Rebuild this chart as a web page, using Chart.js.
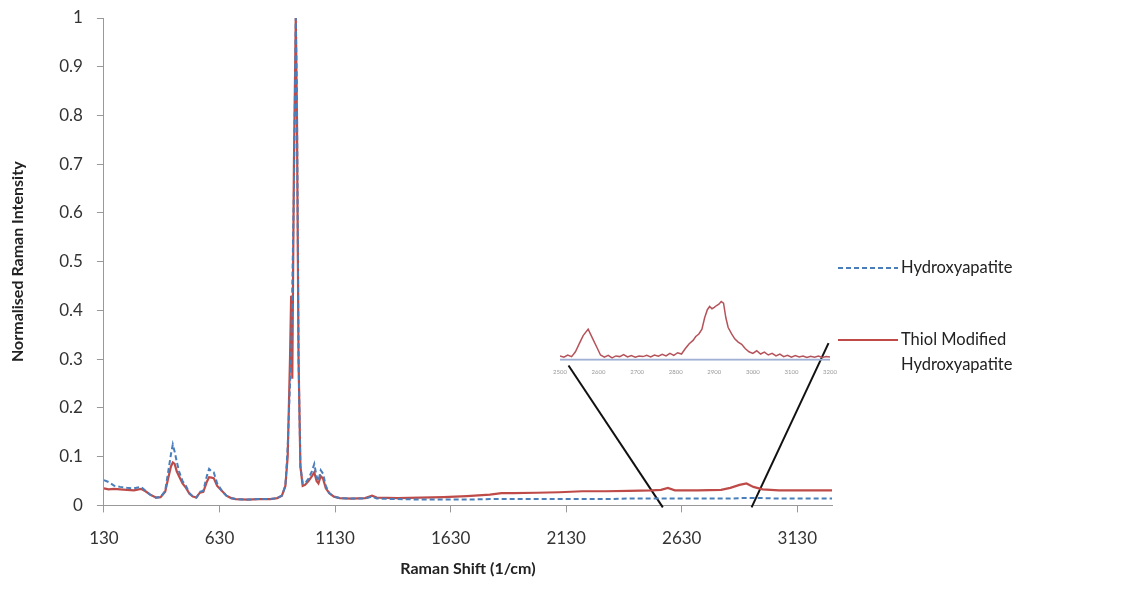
<!DOCTYPE html>
<html lang="en">
<head>
<meta charset="UTF-8">
<title>Raman spectra</title>
<style>
    body { margin: 0; background: #fff; }
    .wrap { position: relative; width: 1138px; height: 597px; }
    #insetChart { position: absolute; left: 548px; top: 292px; }
</style>
</head>
<body>
<div class="wrap">
    <canvas id="ramanChart" width="1138" height="597"></canvas>
    <canvas id="insetChart" width="294" height="84"></canvas>
</div>
<script src="https://cdn.jsdelivr.net/npm/chart.js"></script>
<script>
    // main spectrum
    const ramanShift = [130, 150, 175, 200, 230, 260, 290, 310, 330, 355, 375, 395, 410, 420, 428, 436, 445, 455, 470, 485,
        500, 515, 530, 545, 560, 575, 585, 595, 605, 620, 640, 660, 680, 700, 750, 800, 850, 880, 900, 915,
        925, 935, 940, 945, 952, 960, 965, 972, 980, 990, 1000, 1015, 1030, 1040, 1050, 1058, 1068, 1078, 1090, 1105,
        1125, 1150, 1200, 1260, 1290, 1310, 1400, 1500, 1600, 1700, 1800, 1850, 1900, 2000, 2100, 2200, 2300, 2400, 2500, 2540,
        2570, 2600, 2700, 2800, 2840, 2880, 2910, 2940, 2980, 3050, 3150, 3280];
    const hydroxyapatite = [0.052, 0.048, 0.040, 0.038, 0.036, 0.035, 0.038, 0.030, 0.022, 0.016, 0.017, 0.030, 0.075, 0.105, 0.125, 0.110, 0.090, 0.070, 0.050, 0.040,
        0.025, 0.018, 0.016, 0.028, 0.030, 0.060, 0.075, 0.070, 0.068, 0.045, 0.030, 0.020, 0.015, 0.013, 0.012, 0.013, 0.013, 0.015, 0.020, 0.040,
        0.120, 0.250, 0.300, 0.450, 0.650, 1.000, 0.850, 0.300, 0.080, 0.045, 0.045, 0.055, 0.070, 0.085, 0.060, 0.050, 0.072, 0.065, 0.040, 0.025,
        0.018, 0.015, 0.014, 0.014, 0.018, 0.014, 0.013, 0.012, 0.012, 0.012, 0.013, 0.013, 0.013, 0.013, 0.013, 0.013, 0.013, 0.014, 0.014, 0.014,
        0.014, 0.014, 0.014, 0.014, 0.014, 0.015, 0.015, 0.015, 0.015, 0.014, 0.014, 0.014];
    const thiolModified = [0.035, 0.033, 0.034, 0.033, 0.032, 0.031, 0.034, 0.029, 0.022, 0.016, 0.017, 0.028, 0.060, 0.080, 0.088, 0.085, 0.070, 0.060, 0.045, 0.036,
        0.024, 0.018, 0.016, 0.026, 0.028, 0.048, 0.058, 0.057, 0.056, 0.040, 0.030, 0.020, 0.015, 0.013, 0.012, 0.013, 0.013, 0.015, 0.020, 0.040,
        0.100, 0.300, 0.430, 0.260, 0.700, 1.000, 0.800, 0.300, 0.080, 0.040, 0.042, 0.050, 0.060, 0.068, 0.050, 0.045, 0.060, 0.055, 0.035, 0.025,
        0.018, 0.015, 0.014, 0.015, 0.020, 0.016, 0.015, 0.016, 0.017, 0.019, 0.022, 0.025, 0.025, 0.026, 0.027, 0.029, 0.029, 0.030, 0.031, 0.032,
        0.036, 0.031, 0.031, 0.032, 0.036, 0.042, 0.045, 0.038, 0.033, 0.031, 0.031, 0.031];
    const xTicks = [130, 630, 1130, 1630, 2130, 2630, 3130];

    // zoom lines from the inset down to the axis
    const zoomLeft = [{ x: 2140, y: 0.287 }, { x: 2548, y: -0.004 }];
    const zoomRight = [{ x: 3265, y: 0.333 }, { x: 2932, y: -0.004 }];

    // inset: 2500-3200 region of the thiol sample (arbitrary units)
    const insetShift = [2500, 2510, 2520, 2530, 2540, 2550, 2560, 2573, 2585, 2597, 2605, 2615, 2625, 2635, 2645, 2655, 2665, 2675, 2685, 2695,
        2705, 2715, 2725, 2735, 2745, 2755, 2765, 2775, 2785, 2795, 2805, 2815, 2825, 2835, 2845, 2852, 2860, 2868, 2875, 2882,
        2888, 2894, 2900, 2906, 2912, 2918, 2924, 2930, 2936, 2945, 2953, 2962, 2971, 2980, 2990, 3000, 3010, 3020, 3030, 3040,
        3050, 3060, 3070, 3080, 3090, 3100, 3110, 3120, 3130, 3140, 3150, 3160, 3170, 3180, 3190, 3200];
    const insetThiol = [12, 8, 15, 10, 25, 50, 75, 95, 65, 35, 15, 8, 14, 6, 12, 10, 16, 9, 13, 8,
        12, 10, 14, 9, 15, 11, 17, 12, 20, 14, 22, 18, 35, 50, 60, 72, 80, 95, 130, 155,
        165, 158, 162, 168, 172, 180, 175, 130, 100, 80, 65, 55, 48, 35, 25, 20, 28, 18, 24, 15,
        20, 12, 18, 10, 14, 8, 13, 9, 12, 7, 11, 8, 12, 7, 10, 9];
    const insetHydroxy = [0, 0];
    const insetHydroxyShift = [2500, 3200];
    const insetTicks = [2500, 2600, 2700, 2800, 2900, 3000, 3100, 3200];

    const blue = '#4a7ebb';
    const red = '#be4b48';

    function toPoints(xs, ys) {
        return xs.map((x, i) => ({ x: x, y: ys[i] }));
    }

    // legend on the right, the second label runs on two lines
    const sideLegend = {
        id: 'sideLegend',
        afterDraw(chart) {
            const ctx = chart.ctx;
            const items = [
                { ds: chart.data.datasets[0], y: 268, lines: ['Hydroxyapatite'] },
                { ds: chart.data.datasets[1], y: 340, lines: ['Thiol Modified', 'Hydroxyapatite'] }
            ];
            ctx.save();
            items.forEach(item => {
                ctx.beginPath();
                ctx.strokeStyle = item.ds.borderColor;
                ctx.lineWidth = item.ds.borderWidth;
                ctx.setLineDash(item.ds.borderDash || []);
                ctx.moveTo(838, item.y);
                ctx.lineTo(898, item.y);
                ctx.stroke();
                ctx.setLineDash([]);
                ctx.fillStyle = '#222';
                ctx.font = '16.5px Lato';
                ctx.textBaseline = 'middle';
                item.lines.forEach((t, i) => ctx.fillText(t, 901, item.y + i * 25));
            });
            ctx.restore();
        }
    };

    new Chart(document.getElementById('ramanChart'), {
        type: 'line',
        data: {
            datasets: [{
                label: 'Hydroxyapatite',
                data: toPoints(ramanShift, hydroxyapatite),
                borderColor: blue,
                borderWidth: 2,
                borderDash: [5, 3],
                pointRadius: 0,
                tension: 0
            }, {
                label: 'Thiol Modified Hydroxyapatite',
                data: toPoints(ramanShift, thiolModified),
                borderColor: red,
                borderWidth: 2.2,
                pointRadius: 0,
                tension: 0
            }, {
                label: 'zoom1',
                data: zoomLeft,
                borderColor: '#111',
                borderWidth: 2,
                pointRadius: 0,
                clip: false
            }, {
                label: 'zoom2',
                data: zoomRight,
                borderColor: '#111',
                borderWidth: 2,
                pointRadius: 0,
                clip: false
            }]
        },
        options: {
            responsive: false,
            animation: false,
            layout: { padding: { top: 0, right: 306, bottom: 19, left: 4 } },
            plugins: {
                legend: { display: false },
                tooltip: { enabled: false }
            },
            scales: {
                x: {
                    type: 'linear',
                    min: 130,
                    max: 3280,
                    afterBuildTicks: axis => { axis.ticks = xTicks.map(v => ({ value: v })); },
                    grid: { drawOnChartArea: false, tickLength: 7, color: '#999' },
                    border: { color: '#999' },
                    ticks: {
                        color: '#333',
                        font: { family: 'Lato', size: 17 },
                        padding: 16,
                        maxRotation: 0,
                        callback: v => String(v)
                    },
                    title: {
                        display: true,
                        text: 'Raman Shift (1/cm)',
                        color: '#222',
                        font: { family: 'Lato', size: 16, weight: 'bold' },
                        padding: { top: -6, bottom: 0 }
                    }
                },
                y: {
                    min: 0,
                    max: 1,
                    // keep the top of the axis close to the edge like the original
                    afterFit: s => { s.paddingTop = 18; },
                    grid: { drawOnChartArea: false, tickLength: 7, color: '#999' },
                    border: { color: '#999' },
                    ticks: {
                        stepSize: 0.1,
                        color: '#333',
                        font: { family: 'Lato', size: 17 },
                        padding: 14,
                        callback: v => String(Math.round(v * 10) / 10)
                    },
                    title: {
                        display: true,
                        text: 'Normalised Raman Intensity',
                        color: '#222',
                        font: { family: 'Lato', size: 16, weight: 'bold' },
                        padding: { top: 4, bottom: 18 }
                    }
                }
            }
        },
        plugins: [sideLegend]
    });

    new Chart(document.getElementById('insetChart'), {
        type: 'line',
        data: {
            datasets: [{
                label: 'Hydroxyapatite',
                data: toPoints(insetHydroxyShift, insetHydroxy),
                borderColor: '#9fb0d4',
                borderWidth: 2,
                pointRadius: 0
            }, {
                label: 'Thiol Modified Hydroxyapatite',
                data: toPoints(insetShift, insetThiol),
                borderColor: '#b5535a',
                borderWidth: 1.5,
                pointRadius: 0,
                tension: 0
            }]
        },
        options: {
            responsive: false,
            animation: false,
            layout: { padding: { top: 8, right: 12, bottom: 0, left: 12 } },
            plugins: {
                legend: { display: false },
                tooltip: { enabled: false }
            },
            scales: {
                x: {
                    type: 'linear',
                    min: 2500,
                    max: 3200,
                    afterBuildTicks: axis => { axis.ticks = insetTicks.map(v => ({ value: v })); },
                    grid: { display: false },
                    border: { display: false },
                    ticks: {
                        color: '#999',
                        font: { family: 'Lato', size: 6 },
                        padding: 0,
                        maxRotation: 0,
                        callback: v => String(v)
                    }
                },
                y: {
                    display: false,
                    min: -3,
                    max: 185
                }
            }
        }
    });
</script>
</body>
</html>
